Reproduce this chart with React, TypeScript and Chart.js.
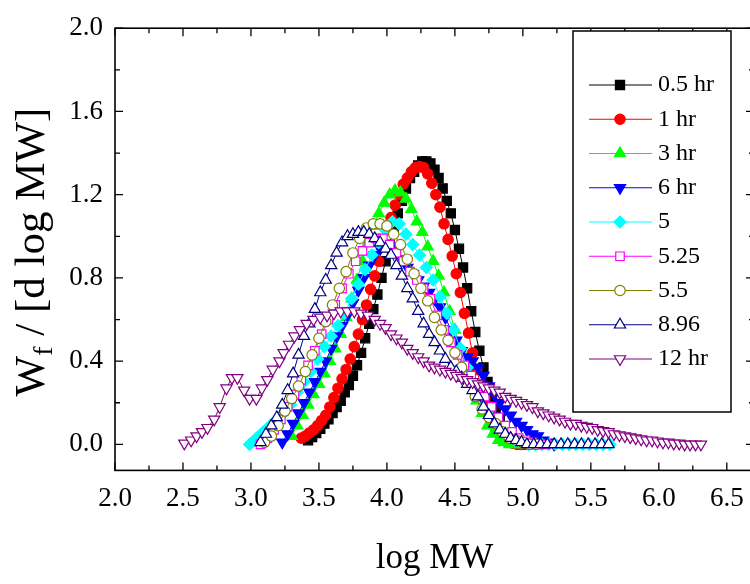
import React, { useEffect, useRef } from 'react';
import { Chart, registerables } from 'chart.js';
import { drawPoint } from 'chart.js/helpers';

Chart.register(...registerables);

const FONT = "'Liberation Serif', 'Times New Roman', serif";

// ---------- data ----------
const seriesLabels = ['0.5 hr', '1 hr', '3 hr', '6 hr', '5', '5.25', '5.5', '8.96', '12 hr'];

const x05 = [3.42, 3.45, 3.48, 3.51, 3.54, 3.57, 3.6, 3.63, 3.66, 3.69, 3.72, 3.75, 3.78, 3.81, 3.84, 3.87, 3.9, 3.93, 3.96, 3.99, 4.02, 4.05, 4.08, 4.11, 4.14, 4.17, 4.2, 4.23, 4.26, 4.29, 4.32, 4.35, 4.38, 4.41, 4.44, 4.47, 4.5, 4.53, 4.56, 4.59, 4.62, 4.65, 4.68, 4.71, 4.74, 4.77, 4.8, 4.83, 4.86, 4.89, 4.92, 4.95, 4.98, 5.01, 5.04];
const y05 = [0.02, 0.035, 0.055, 0.075, 0.1, 0.12, 0.15, 0.18, 0.21, 0.25, 0.285, 0.33, 0.38, 0.44, 0.51, 0.58, 0.65, 0.72, 0.8, 0.88, 0.96, 1.04, 1.11, 1.17, 1.23, 1.28, 1.31, 1.34, 1.36, 1.36, 1.35, 1.32, 1.28, 1.23, 1.17, 1.11, 1.03, 0.94, 0.85, 0.75, 0.64, 0.54, 0.45, 0.37, 0.3, 0.23, 0.17, 0.12, 0.07, 0.04, 0.02, 0.01, 0.0, 0.0, 0.0];

const x1 = [3.37, 3.4, 3.43, 3.46, 3.49, 3.52, 3.55, 3.58, 3.61, 3.64, 3.67, 3.7, 3.73, 3.76, 3.79, 3.82, 3.85, 3.88, 3.91, 3.94, 3.97, 4.0, 4.03, 4.06, 4.09, 4.12, 4.15, 4.18, 4.21, 4.24, 4.27, 4.3, 4.33, 4.36, 4.39, 4.42, 4.45, 4.48, 4.51, 4.54, 4.57, 4.6, 4.63, 4.66, 4.69, 4.72, 4.75, 4.78, 4.81, 4.84, 4.87, 4.9, 4.93, 4.96, 4.99];
const y1 = [0.03, 0.04, 0.055, 0.07, 0.09, 0.115, 0.14, 0.18, 0.225, 0.27, 0.315, 0.36, 0.41, 0.47, 0.53, 0.6, 0.67, 0.745, 0.81, 0.88, 0.955, 1.03, 1.09, 1.15, 1.2, 1.25, 1.28, 1.31, 1.33, 1.335, 1.33, 1.3, 1.255, 1.2, 1.14, 1.06, 0.985, 0.905, 0.82, 0.73, 0.63, 0.535, 0.44, 0.36, 0.285, 0.22, 0.16, 0.11, 0.07, 0.045, 0.025, 0.01, 0.005, 0.0, 0.0];

const x3 = [3.3, 3.34, 3.38, 3.42, 3.46, 3.5, 3.54, 3.58, 3.62, 3.66, 3.7, 3.74, 3.78, 3.82, 3.86, 3.9, 3.94, 3.98, 4.02, 4.06, 4.1, 4.14, 4.18, 4.22, 4.26, 4.3, 4.34, 4.38, 4.42, 4.46, 4.5, 4.54, 4.58, 4.62, 4.66, 4.7, 4.74, 4.78, 4.82, 4.86, 4.9, 4.94, 4.98];
const y3 = [0.04, 0.09, 0.14, 0.19, 0.24, 0.29, 0.34, 0.4, 0.46, 0.53, 0.61, 0.7, 0.79, 0.88, 0.97, 1.05, 1.11, 1.16, 1.2, 1.22, 1.21, 1.18, 1.13, 1.07, 1.02, 0.95, 0.88, 0.81, 0.73, 0.64, 0.55, 0.46, 0.37, 0.29, 0.21, 0.15, 0.09, 0.05, 0.02, 0.01, 0.0, 0.0, 0.0];

const x6 = [3.23, 3.27, 3.31, 3.35, 3.39, 3.43, 3.47, 3.51, 3.55, 3.59, 3.63, 3.67, 3.71, 3.75, 3.79, 3.83, 3.87, 3.91, 3.95, 3.99, 4.03, 4.07, 4.11, 4.15, 4.19, 4.23, 4.27, 4.31, 4.35, 4.39, 4.43, 4.47, 4.51, 4.55, 4.59, 4.63, 4.67, 4.71, 4.75, 4.79, 4.83, 4.87, 4.91, 4.95, 4.99, 5.03, 5.07, 5.11, 5.15, 5.19, 5.23];
const y6 = [0.01, 0.05, 0.1, 0.15, 0.2, 0.25, 0.3, 0.35, 0.4, 0.46, 0.52, 0.57, 0.62, 0.68, 0.74, 0.8, 0.86, 0.91, 0.94, 0.96, 0.95, 0.93, 0.89, 0.85, 0.82, 0.79, 0.76, 0.73, 0.7, 0.66, 0.61, 0.55, 0.5, 0.45, 0.42, 0.4, 0.37, 0.33, 0.28, 0.24, 0.2, 0.17, 0.14, 0.11, 0.09, 0.07, 0.05, 0.04, 0.02, 0.01, 0.0];

const x5 = [2.99, 3.04, 3.09, 3.14, 3.19, 3.24, 3.29, 3.34, 3.39, 3.44, 3.49, 3.54, 3.59, 3.64, 3.69, 3.74, 3.79, 3.84, 3.89, 3.94, 3.99, 4.04, 4.09, 4.14, 4.19, 4.24, 4.29, 4.34, 4.39, 4.44, 4.49, 4.54, 4.59, 4.64, 4.69, 4.74, 4.79, 4.84, 4.89, 4.94, 4.99, 5.04, 5.09, 5.14, 5.19, 5.24, 5.29, 5.34, 5.39, 5.44, 5.49, 5.54, 5.59, 5.64];
const y5 = [0.0, 0.03, 0.06, 0.09, 0.12, 0.15, 0.19, 0.25, 0.3, 0.35, 0.41, 0.47, 0.52, 0.57, 0.63, 0.7, 0.77, 0.84, 0.91, 0.97, 1.03, 1.07, 1.06, 1.01, 0.96, 0.91, 0.85, 0.79, 0.71, 0.63, 0.55, 0.46, 0.37, 0.29, 0.22, 0.16, 0.11, 0.07, 0.04, 0.02, 0.01, 0.0, 0.0, 0.0, 0.0, 0.0, 0.0, 0.0, 0.0, 0.0, 0.0, 0.0, 0.0, 0.0];

const x525 = [3.07, 3.12, 3.17, 3.22, 3.27, 3.32, 3.37, 3.42, 3.47, 3.52, 3.57, 3.62, 3.67, 3.72, 3.77, 3.82, 3.87, 3.92, 3.97, 4.02, 4.07, 4.12, 4.17, 4.22, 4.27, 4.32, 4.37, 4.42, 4.47, 4.52, 4.57, 4.62, 4.67, 4.72, 4.77, 4.82, 4.87, 4.92, 4.97, 5.02, 5.07, 5.12, 5.17];
const y525 = [0.0, 0.03, 0.07, 0.12, 0.18, 0.24, 0.31, 0.38, 0.45, 0.53, 0.6, 0.67, 0.75, 0.82, 0.88, 0.93, 0.97, 0.99, 0.99, 0.96, 0.92, 0.88, 0.83, 0.79, 0.75, 0.7, 0.62, 0.55, 0.49, 0.43, 0.38, 0.33, 0.28, 0.23, 0.18, 0.13, 0.09, 0.06, 0.03, 0.02, 0.01, 0.0, 0.0];

const x55 = [3.1, 3.15, 3.2, 3.25, 3.3, 3.35, 3.4, 3.45, 3.5, 3.55, 3.6, 3.65, 3.7, 3.75, 3.8, 3.85, 3.9, 3.95, 4.0, 4.05, 4.1, 4.15, 4.2, 4.25, 4.3, 4.35, 4.4, 4.45, 4.5, 4.55, 4.6, 4.65, 4.7, 4.75, 4.8, 4.85, 4.9, 4.95, 5.0, 5.05, 5.1];
const y55 = [0.01, 0.04, 0.09, 0.16, 0.22, 0.28, 0.35, 0.43, 0.51, 0.59, 0.67, 0.75, 0.83, 0.92, 0.99, 1.04, 1.06, 1.06, 1.05, 1.01, 0.96, 0.89, 0.82, 0.75, 0.69, 0.61, 0.55, 0.5, 0.44, 0.37, 0.3, 0.23, 0.17, 0.13, 0.1, 0.06, 0.03, 0.02, 0.01, 0.0, 0.0];

const x896 = [3.07, 3.11, 3.15, 3.19, 3.23, 3.27, 3.31, 3.35, 3.39, 3.43, 3.47, 3.51, 3.55, 3.59, 3.63, 3.67, 3.71, 3.75, 3.79, 3.83, 3.87, 3.91, 3.95, 3.99, 4.03, 4.07, 4.11, 4.15, 4.19, 4.23, 4.27, 4.31, 4.35, 4.39, 4.43, 4.47, 4.51, 4.55, 4.59, 4.63, 4.67, 4.71, 4.75, 4.79, 4.83, 4.87, 4.91, 4.95, 4.99, 5.03, 5.08, 5.13, 5.18, 5.23, 5.28, 5.33, 5.38, 5.43, 5.48, 5.53, 5.58, 5.63];
const y896 = [0.01, 0.05, 0.09, 0.13, 0.19, 0.26, 0.34, 0.43, 0.52, 0.58, 0.65, 0.73, 0.79, 0.86, 0.92, 0.97, 1.0, 1.01, 1.02, 1.02, 1.01, 0.99, 0.97, 0.94, 0.91, 0.86, 0.81, 0.75, 0.7, 0.64, 0.58, 0.53, 0.49, 0.45, 0.41, 0.37, 0.35, 0.32, 0.29, 0.26, 0.23, 0.18, 0.14, 0.1, 0.07, 0.05, 0.03, 0.02, 0.01, 0.0, 0.0, 0.0, 0.0, 0.0, 0.0, 0.0, 0.0, 0.0, 0.0, 0.0, 0.0, 0.0];

const x12 = [2.51, 2.56, 2.6, 2.64, 2.68, 2.73, 2.77, 2.82, 2.86, 2.9, 2.95, 2.99, 3.04, 3.08, 3.12, 3.16, 3.21, 3.24, 3.28, 3.32, 3.36, 3.41, 3.46, 3.51, 3.56, 3.61, 3.66, 3.71, 3.76, 3.81, 3.86, 3.91, 3.95, 3.99, 4.03, 4.07, 4.11, 4.15, 4.19, 4.23, 4.27, 4.31, 4.35, 4.39, 4.43, 4.47, 4.51, 4.55, 4.59, 4.63, 4.67, 4.71, 4.75, 4.79, 4.83, 4.87, 4.91, 4.95, 4.99, 5.03, 5.07, 5.11, 5.15, 5.19, 5.23, 5.27, 5.31, 5.35, 5.39, 5.43, 5.47, 5.51, 5.55, 5.59, 5.63, 5.67, 5.71, 5.75, 5.79, 5.83, 5.87, 5.91, 5.95, 5.99, 6.03, 6.07, 6.11, 6.15, 6.19, 6.23, 6.27, 6.31];
const y12 = [0.005, 0.02, 0.04, 0.06, 0.08, 0.12, 0.18, 0.27, 0.32, 0.32, 0.26, 0.22, 0.22, 0.27, 0.31, 0.36, 0.4, 0.44, 0.48, 0.52, 0.55, 0.58, 0.6, 0.61, 0.62, 0.63, 0.64, 0.64, 0.64, 0.63, 0.62, 0.6, 0.58, 0.56, 0.53, 0.51, 0.49, 0.46, 0.44, 0.42, 0.4, 0.38, 0.37, 0.36, 0.35, 0.34, 0.33, 0.32, 0.31, 0.3, 0.29, 0.28, 0.27, 0.26, 0.25, 0.23, 0.22, 0.21, 0.2, 0.19, 0.18, 0.16, 0.15, 0.14, 0.13, 0.12, 0.11, 0.1, 0.1, 0.09, 0.085, 0.08, 0.07, 0.065, 0.06, 0.05, 0.045, 0.04, 0.035, 0.03, 0.025, 0.02, 0.02, 0.015, 0.01, 0.01, 0.005, 0.005, 0.0, 0.0, 0.0, 0.0];

const seriesX = [x05, x1, x3, x6, x5, x525, x55, x896, x12];
const seriesY = [y05, y1, y3, y6, y5, y525, y55, y896, y12];

const xTickStep = 0.5;
const yTickStep = 0.4;

// ---------- styles ----------
const styles = [
  { color: '#000000', fill: '#000000', shape: 'rect', rot: 0, r: 6.5 },
  { color: '#FF0000', fill: '#FF0000', shape: 'circle', rot: 0, r: 5.2 },
  { color: '#00FF00', fill: '#00FF00', shape: 'triangle', rot: 0, r: 6.5 },
  { color: '#0000FF', fill: '#0000FF', shape: 'triangle', rot: 180, r: 6.5 },
  { color: '#00FFFF', fill: '#00FFFF', shape: 'rectRot', rot: 0, r: 6 },
  { color: '#FF00FF', fill: '#FFFFFF', shape: 'rect', rot: 0, r: 6 },
  { color: '#808000', fill: '#FFFFFF', shape: 'circle', rot: 0, r: 5.2 },
  { color: '#000080', fill: '#FFFFFF', shape: 'triangle', rot: 0, r: 6.5 },
  { color: '#800080', fill: '#FFFFFF', shape: 'triangle', rot: 180, r: 6.5 },
];

const CANVAS_W = 770;
const CANVAS_H = 584;
const AREA = { left: 115, top: 22, right: 754, bottom: 470.4 };
const MAJOR_TICK = 8;
const MINOR_TICK = 5;

const LEGEND = { left: 573, top: 31, right: 731, bottom: 412, firstY: 85, rowH: 34.25, lineX0: 589, lineX1: 652, markX: 620, textX: 658 };
const YTITLE = { x: 44, y: 252, size: 43, subSize: 28, subDrop: 8 };

const framePlugin = {
  id: 'frameTicks',
  afterDatasetsDraw(chart: any) {
    const { ctx, chartArea: ca, scales } = chart;
    const xs = scales.x;
    const ys = scales.y;
    ctx.save();
    ctx.strokeStyle = '#000';
    ctx.lineWidth = 1.6;
    ctx.strokeRect(ca.left, ca.top, ca.right - ca.left, ca.bottom - ca.top);
    ctx.lineWidth = 1.3;
    ctx.beginPath();
    for (let k = 0; ; k++) {
      const v = xs.min + k * (xTickStep / 2);
      if (v > xs.max + 1e-9) break;
      const px = xs.getPixelForValue(v);
      const len = k % 2 === 0 ? MAJOR_TICK : MINOR_TICK;
      ctx.moveTo(px, ca.bottom);
      ctx.lineTo(px, ca.bottom - len);
      ctx.moveTo(px, ca.top);
      ctx.lineTo(px, ca.top + len);
    }
    for (let k = 0; ; k++) {
      const v = k * (yTickStep / 2);
      if (v > ys.max + 1e-9) break;
      const py = ys.getPixelForValue(v);
      const len = k % 2 === 0 ? MAJOR_TICK : MINOR_TICK;
      ctx.moveTo(ca.left, py);
      ctx.lineTo(ca.left + len, py);
      ctx.moveTo(ca.right, py);
      ctx.lineTo(ca.right - len, py);
    }
    ctx.stroke();
    ctx.restore();
  },
  afterDraw(chart: any) {
    const ctx = chart.ctx;
    ctx.save();
    // legend box
    ctx.fillStyle = '#fff';
    ctx.fillRect(LEGEND.left, LEGEND.top, LEGEND.right - LEGEND.left, LEGEND.bottom - LEGEND.top);
    ctx.strokeStyle = '#000';
    ctx.lineWidth = 1.5;
    ctx.strokeRect(LEGEND.left, LEGEND.top, LEGEND.right - LEGEND.left, LEGEND.bottom - LEGEND.top);
    chart.data.datasets.forEach((ds: any, i: number) => {
      const yy = LEGEND.firstY + i * LEGEND.rowH;
      ctx.strokeStyle = ds.borderColor;
      ctx.lineWidth = 1;
      ctx.beginPath();
      ctx.moveTo(LEGEND.lineX0, yy);
      ctx.lineTo(LEGEND.lineX1, yy);
      ctx.stroke();
      ctx.fillStyle = ds.pointBackgroundColor;
      ctx.strokeStyle = ds.pointBorderColor;
      ctx.lineWidth = ds.pointBorderWidth;
      drawPoint(ctx, { pointStyle: ds.pointStyle, rotation: ds.pointRotation, radius: ds.pointRadius, borderWidth: ds.pointBorderWidth } as any, LEGEND.markX, yy);
      ctx.fillStyle = '#000';
      ctx.font = `24px ${FONT}`;
      ctx.textBaseline = 'middle';
      ctx.textAlign = 'left';
      ctx.fillText(ds.label, LEGEND.textX, yy);
    });
    // y axis title with subscript
    ctx.translate(YTITLE.x, YTITLE.y);
    ctx.rotate(-Math.PI / 2);
    const big = `${YTITLE.size}px ${FONT}`;
    const small = `${YTITLE.subSize}px ${FONT}`;
    const rest = ' / [d log MW]';
    ctx.font = big;
    const wW = ctx.measureText('W').width;
    const wR = ctx.measureText(rest).width;
    ctx.font = small;
    const wF = ctx.measureText('f').width;
    let cx = -(wW + wF + wR) / 2;
    ctx.fillStyle = '#000';
    ctx.textBaseline = 'alphabetic';
    ctx.textAlign = 'left';
    ctx.font = big;
    ctx.fillText('W', cx, 0);
    cx += wW;
    ctx.font = small;
    ctx.fillText('f', cx, YTITLE.subDrop);
    cx += wF;
    ctx.font = big;
    ctx.fillText(rest, cx, 0);
    ctx.restore();
  },
};

export default function App() {
  const ref = useRef<HTMLCanvasElement>(null);
  useEffect(() => {
    if (!ref.current) return;
    const datasets = seriesLabels.map((label, i) => {
      const s = styles[i];
      return {
        label,
        data: seriesX[i].map((xv, j) => ({ x: xv, y: seriesY[i][j] })),
        borderColor: s.color,
        backgroundColor: s.fill,
        borderWidth: 1,
        pointStyle: s.shape,
        pointRotation: s.rot,
        pointRadius: s.r,
        pointBackgroundColor: s.fill,
        pointBorderColor: s.color,
        pointBorderWidth: 1.2,
        tension: 0,
        fill: false,
        order: seriesLabels.length - 1 - i,
      };
    });
    const chart = new Chart(ref.current, {
      type: 'line',
      data: { datasets } as any,
      options: {
        responsive: false,
        animation: false,
        events: [],
        layout: { padding: { left: 0, top: AREA.top, right: CANVAS_W - AREA.right, bottom: 0 } },
        plugins: { legend: { display: false }, tooltip: { enabled: false } },
        scales: {
          x: {
            type: 'linear',
            min: 2.0,
            max: 6.7,
            afterFit: (s: any) => { s.height = CANVAS_H - AREA.bottom; },
            grid: { display: false, drawTicks: false },
            border: { display: false },
            ticks: {
              stepSize: xTickStep,
              includeBounds: false,
              autoSkip: false,
              maxRotation: 0,
              padding: 12,
              color: '#000',
              font: { family: FONT, size: 27 },
              callback: (v: any) => Number(v).toFixed(1),
            },
            title: {
              display: true,
              text: 'log MW',
              color: '#000',
              font: { family: FONT, size: 35 },
              padding: { top: 0, bottom: 4 },
            },
          },
          y: {
            type: 'linear',
            min: -0.125,
            max: 2.0,
            afterFit: (s: any) => { s.width = AREA.left; },
            grid: { display: false, drawTicks: false },
            border: { display: false },
            ticks: {
              stepSize: yTickStep,
              includeBounds: false,
              autoSkip: false,
              padding: 12,
              color: '#000',
              font: { family: FONT, size: 27 },
              callback: (v: any) => Number(v).toFixed(1),
            },
          },
        },
      } as any,
      plugins: [framePlugin],
    });
    return () => chart.destroy();
  }, []);
  return (
    <div style={{ position: 'absolute', left: 0, top: 0, width: 750, height: CANVAS_H, overflow: 'hidden', background: '#fff' }}>
      <canvas ref={ref} width={CANVAS_W} height={CANVAS_H} style={{ width: CANVAS_W, height: CANVAS_H, display: 'block' }} />
    </div>
  );
}
